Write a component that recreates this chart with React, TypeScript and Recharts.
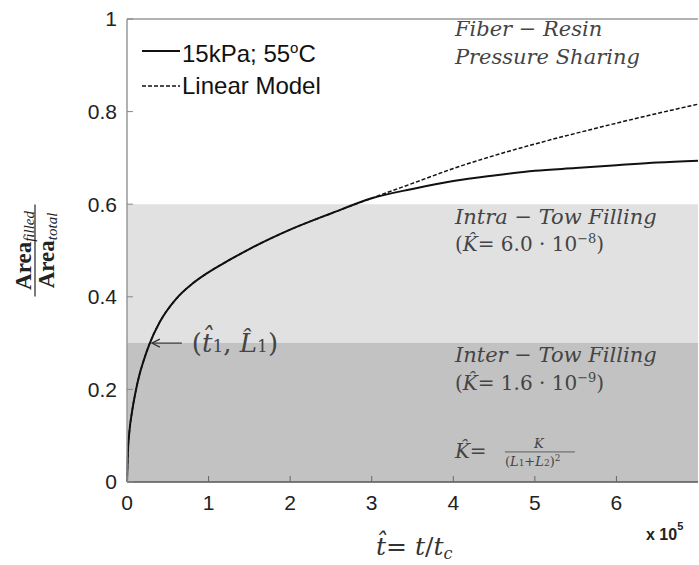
import {
  LineChart,
  Line,
  XAxis,
  YAxis,
  ReferenceArea,
  ReferenceLine,
  ReferenceDot,
  Legend,
} from "recharts";

// t-hat (x 10^5) and filled-area fraction
const tHat = [0, 0.01, 0.03, 0.06, 0.1, 0.15, 0.2, 0.28, 0.4, 0.6, 0.8, 1, 1.25, 1.5, 1.75, 2, 2.5, 3, 3.5, 4, 4.5, 5, 5.5, 6, 6.5, 7];
const measured = [0, 0.06, 0.11, 0.15, 0.19, 0.23, 0.26, 0.3, 0.345, 0.395, 0.428, 0.453, 0.479, 0.503, 0.525, 0.545, 0.58, 0.613, 0.633, 0.65, 0.662, 0.672, 0.678, 0.684, 0.69, 0.694];
const linearModel = [0, 0.06, 0.11, 0.15, 0.19, 0.23, 0.26, 0.3, 0.345, 0.395, 0.428, 0.453, 0.479, 0.503, 0.525, 0.545, 0.58, 0.613, 0.645, 0.677, 0.705, 0.73, 0.753, 0.775, 0.796, 0.816];

const xTicks = [0, 1, 2, 3, 4, 5, 6];
const yTicks = [0, 0.2, 0.4, 0.6, 0.8, 1];

const legendNames = ["15kPa; 55", "Linear Model"];

const data = tHat.map((t, i) => ({ t, measured: measured[i], linear: linearModel[i] }));

const sans = "'Liberation Sans', Arial, sans-serif";
const serif = "'DejaVu Serif', serif";
const noteColor = "#444";

// helper: get centre of a reference dot from its label viewBox
function centre(p: any) {
  const vb = p.viewBox || {};
  return { x: vb.x + (vb.width || 0) / 2, y: vb.y + (vb.height || 0) / 2 };
}

function TextNote(lines: string[]) {
  return (p: any) => {
    const { x, y } = centre(p);
    return (
      <text x={x} y={y} fontFamily={serif} fontStyle="italic" fontSize={21} fill={noteColor}>
        {lines.map((l, i) => (
          <tspan key={i} x={x} dy={i === 0 ? 0 : 28}>
            {l}
          </tspan>
        ))}
      </text>
    );
  };
}

function KNote(value: string, exp: string) {
  return (p: any) => {
    const { x, y } = centre(p);
    return (
      <text x={x} y={y} fontFamily={serif} fontSize={20} fill={noteColor}>
        <tspan>(</tspan>
        <tspan fontStyle="italic">K&#770;</tspan>
        <tspan>= {value} · 10</tspan>
        <tspan dy={-8} fontSize={13}>{exp}</tspan>
        <tspan dy={8}>)</tspan>
      </text>
    );
  };
}

function KFormula(p: any) {
  const { x, y } = centre(p);
  return (
    <g fill={noteColor} fontFamily={serif}>
      <text x={x} y={y} fontSize={20}>
        <tspan fontStyle="italic">K&#770;</tspan>
        <tspan>=</tspan>
      </text>
      <text x={x + 84} y={y - 10} fontSize={13} fontStyle="italic" textAnchor="middle">K</text>
      <line x1={x + 50} x2={x + 120} y1={y - 6} y2={y - 6} stroke={noteColor} strokeWidth={0.8} />
      <text x={x + 50} y={y + 8} fontSize={13}>
        (<tspan fontStyle="italic">L</tspan>
        <tspan fontSize={9}>1</tspan>+<tspan fontStyle="italic">L</tspan>
        <tspan fontSize={9}>2</tspan>)<tspan dy={-5} fontSize={9}>2</tspan>
      </text>
    </g>
  );
}

function ArrowNote(p: any) {
  const { x, y } = centre(p);
  return (
    <g>
      <line x1={x + 2} x2={x + 32} y1={y} y2={y} stroke="#333" strokeWidth={1.2} />
      <path d={`M${x + 10},${y - 4} L${x + 2},${y} L${x + 10},${y + 4}`} fill="none" stroke="#333" strokeWidth={1.2} />
      <text x={x + 42} y={y + 9} fontFamily={serif} fontSize={26} fill="#444">
        (<tspan fontStyle="italic">t&#770;</tspan>
        <tspan fontSize={17}>1</tspan>, <tspan fontStyle="italic">L&#770;</tspan>
        <tspan fontSize={17}>1</tspan>)
      </text>
    </g>
  );
}

function YLabel(p: any) {
  const vb = p.viewBox || {};
  const cx = 35;
  const cy = vb.y + vb.height / 2;
  return (
    <g transform={`translate(${cx},${cy}) rotate(-90)`} fill="#222">
      <text x={0} y={-4} textAnchor="middle" fontFamily="'Liberation Serif', serif" fontSize={23} fontWeight="bold">
        Area<tspan fontSize={15} fontWeight="normal" fontStyle="italic" dy={3}>filled</tspan>
      </text>
      <line x1={-46} x2={46} y1={0} y2={0} stroke="#222" strokeWidth={1.2} />
      <text x={0} y={19} textAnchor="middle" fontFamily="'Liberation Serif', serif" fontSize={23} fontWeight="bold">
        Area<tspan fontSize={15} fontWeight="normal" fontStyle="italic" dy={3}>total</tspan>
      </text>
    </g>
  );
}

function XLabel(p: any) {
  const vb = p.viewBox || {};
  return (
    <g>
      <text x={376} y={vb.y + 73} fontFamily={serif} fontSize={25} fill="#333">
        <tspan fontStyle="italic">t&#770;</tspan>= <tspan fontStyle="italic">t</tspan>/
        <tspan fontStyle="italic">t</tspan>
        <tspan fontStyle="italic" fontSize={16} dy={4}>c</tspan>
      </text>
      <text x={646} y={vb.y + 58} fontFamily={sans} fontSize={16} fontWeight="bold" fill="#222">
        x 10<tspan dy={-10} fontSize={11}>5</tspan>
      </text>
    </g>
  );
}

function LegendBox() {
  return (
    <div style={{ fontFamily: sans, fontSize: 24, color: "#111", lineHeight: "32px" }}>
      <div style={{ display: "flex", alignItems: "center" }}>
        <svg width={40} height={10}>
          <line x1={0} x2={38} y1={5} y2={5} stroke="#111" strokeWidth={2} />
        </svg>
        <span>
          {legendNames[0]}
          <sup style={{ fontSize: 15 }}>o</sup>C
        </span>
      </div>
      <div style={{ display: "flex", alignItems: "center" }}>
        <svg width={40} height={10}>
          <line x1={0} x2={38} y1={5} y2={5} stroke="#111" strokeWidth={1.5} strokeDasharray="4 2" />
        </svg>
        <span>{legendNames[1]}</span>
      </div>
    </div>
  );
}

export default function App() {
  return (
    <div style={{ position: "absolute", left: 0, top: 0, width: 699, height: 565, overflow: "hidden", background: "#fff" }}>
      <LineChart width={708} height={565} data={data} margin={{ top: 19, right: 10, left: 0, bottom: 0 }}>
        <ReferenceArea y1={0} y2={0.3} fill="#c2c2c2" fillOpacity={1} stroke="none" ifOverflow="visible" />
        <ReferenceArea y1={0.3} y2={0.6} fill="#e1e1e1" fillOpacity={1} stroke="none" ifOverflow="visible" />
        <ReferenceLine y={1} stroke="#999" strokeWidth={1.5} />
        <XAxis
          dataKey="t"
          type="number"
          domain={[0, 7]}
          ticks={xTicks}
          tickLine={{ stroke: "#666" }}
          tickSize={-6}
          tickMargin={19}
          axisLine={{ stroke: "#555", strokeWidth: 1.5 }}
          tick={{ fontFamily: sans, fontSize: 21, fill: "#222" }}
          height={83}
          label={{ content: XLabel }}
        />
        <YAxis
          type="number"
          domain={[0, 1]}
          ticks={yTicks}
          tickLine={{ stroke: "#888" }}
          tickSize={-6}
          tickMargin={16}
          axisLine={{ stroke: "#999", strokeWidth: 1.5 }}
          tick={{ fontFamily: sans, fontSize: 21, fill: "#222" }}
          width={127}
          label={{ content: YLabel }}
        />
        <Legend
          layout="vertical"
          align="center"
          verticalAlign="middle"
          content={<LegendBox />}
          wrapperStyle={{ position: "absolute", left: 142, top: 32, width: 260 }}
        />
        <Line
          type="monotone"
          dataKey="measured"
          stroke="#111"
          strokeWidth={2}
          dot={false}
          isAnimationActive={false}
        />
        <Line
          type="monotone"
          dataKey="linear"
          stroke="#111"
          strokeWidth={1.5}
          strokeDasharray="4 2"
          dot={false}
          isAnimationActive={false}
        />
        <ReferenceDot x={4.02} y={0.963} r={1} fill="none" stroke="none" ifOverflow="visible"
          label={{ content: TextNote(["Fiber − Resin", "Pressure Sharing"]) }} />
        <ReferenceDot x={4.02} y={0.557} r={1} fill="none" stroke="none" ifOverflow="visible"
          label={{ content: TextNote(["Intra − Tow Filling"]) }} />
        <ReferenceDot x={4.02} y={0.499} r={1} fill="none" stroke="none" ifOverflow="visible"
          label={{ content: KNote("6.0", "−8") }} />
        <ReferenceDot x={4.02} y={0.259} r={1} fill="none" stroke="none" ifOverflow="visible"
          label={{ content: TextNote(["Inter − Tow Filling"]) }} />
        <ReferenceDot x={4.02} y={0.199} r={1} fill="none" stroke="none" ifOverflow="visible"
          label={{ content: KNote("1.6", "−9") }} />
        <ReferenceDot x={4.02} y={0.052} r={1} fill="none" stroke="none" ifOverflow="visible"
          label={{ content: KFormula }} />
        <ReferenceDot x={0.28} y={0.3} r={1} fill="none" stroke="none" ifOverflow="visible"
          label={{ content: ArrowNote }} />
      </LineChart>
    </div>
  );
}
